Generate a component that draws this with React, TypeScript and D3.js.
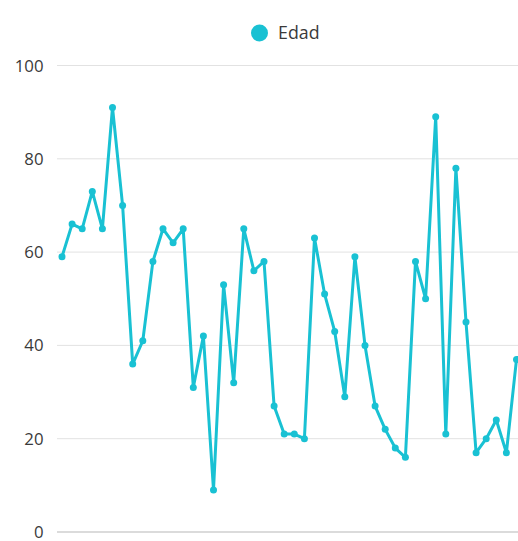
import React from "react";
import * as d3 from "d3";

const seriesName = "Edad";
const edades: number[] = [
  59, 66, 65, 73, 65, 91, 70, 36, 41, 58, 65, 62, 65, 31, 42, 9, 53, 32, 65, 56,
  58, 27, 21, 21, 20, 63, 51, 43, 29, 59, 40, 27, 22, 18, 16, 58, 50, 89, 21, 78,
  45, 17, 20, 24, 17, 37,
];
const yTicks: number[] = [0, 20, 40, 60, 80, 100];

const W = 518;
const H = 541;
const color = "#19c1d3";

export default function App() {
  const x = d3.scaleLinear().domain([0, edades.length - 1]).range([62, 516.5]);
  const y = d3.scaleLinear().domain([0, 100]).range([532, 65.5]);
  const line = d3
    .line<number>()
    .x((_, i) => x(i))
    .y((d) => y(d));

  return (
    <svg
      width={W}
      height={H}
      style={{ position: "absolute", left: 0, top: 0, background: "#fff" }}
      fontFamily="'Open Sans', 'Noto Sans', sans-serif"
    >
      {yTicks.map((t) => (
        <g key={t}>
          <line
            x1={57}
            x2={W}
            y1={y(t)}
            y2={y(t)}
            stroke={t === 0 ? "#cfcfcf" : "#e2e2e2"}
            strokeWidth={t === 0 ? 1.5 : 1}
          />
          <text
            x={43.5}
            y={y(t)}
            dy="0.36em"
            textAnchor="end"
            fontSize={16.8}
            fill="#3a3a3a"
          >
            {t}
          </text>
        </g>
      ))}

      <g>
        <circle cx={259.5} cy={33} r={8.5} fill={color} />
        <text x={278} y={33} dy="0.36em" fontSize={17.8} fill="#3a3a3a">
          {seriesName}
        </text>
      </g>

      <path
        d={line(edades) ?? ""}
        fill="none"
        stroke={color}
        strokeWidth={3}
        strokeLinejoin="round"
      />
      {edades.map((d, i) => (
        <circle key={i} cx={x(i)} cy={y(d)} r={3.5} fill={color} />
      ))}
    </svg>
  );
}
